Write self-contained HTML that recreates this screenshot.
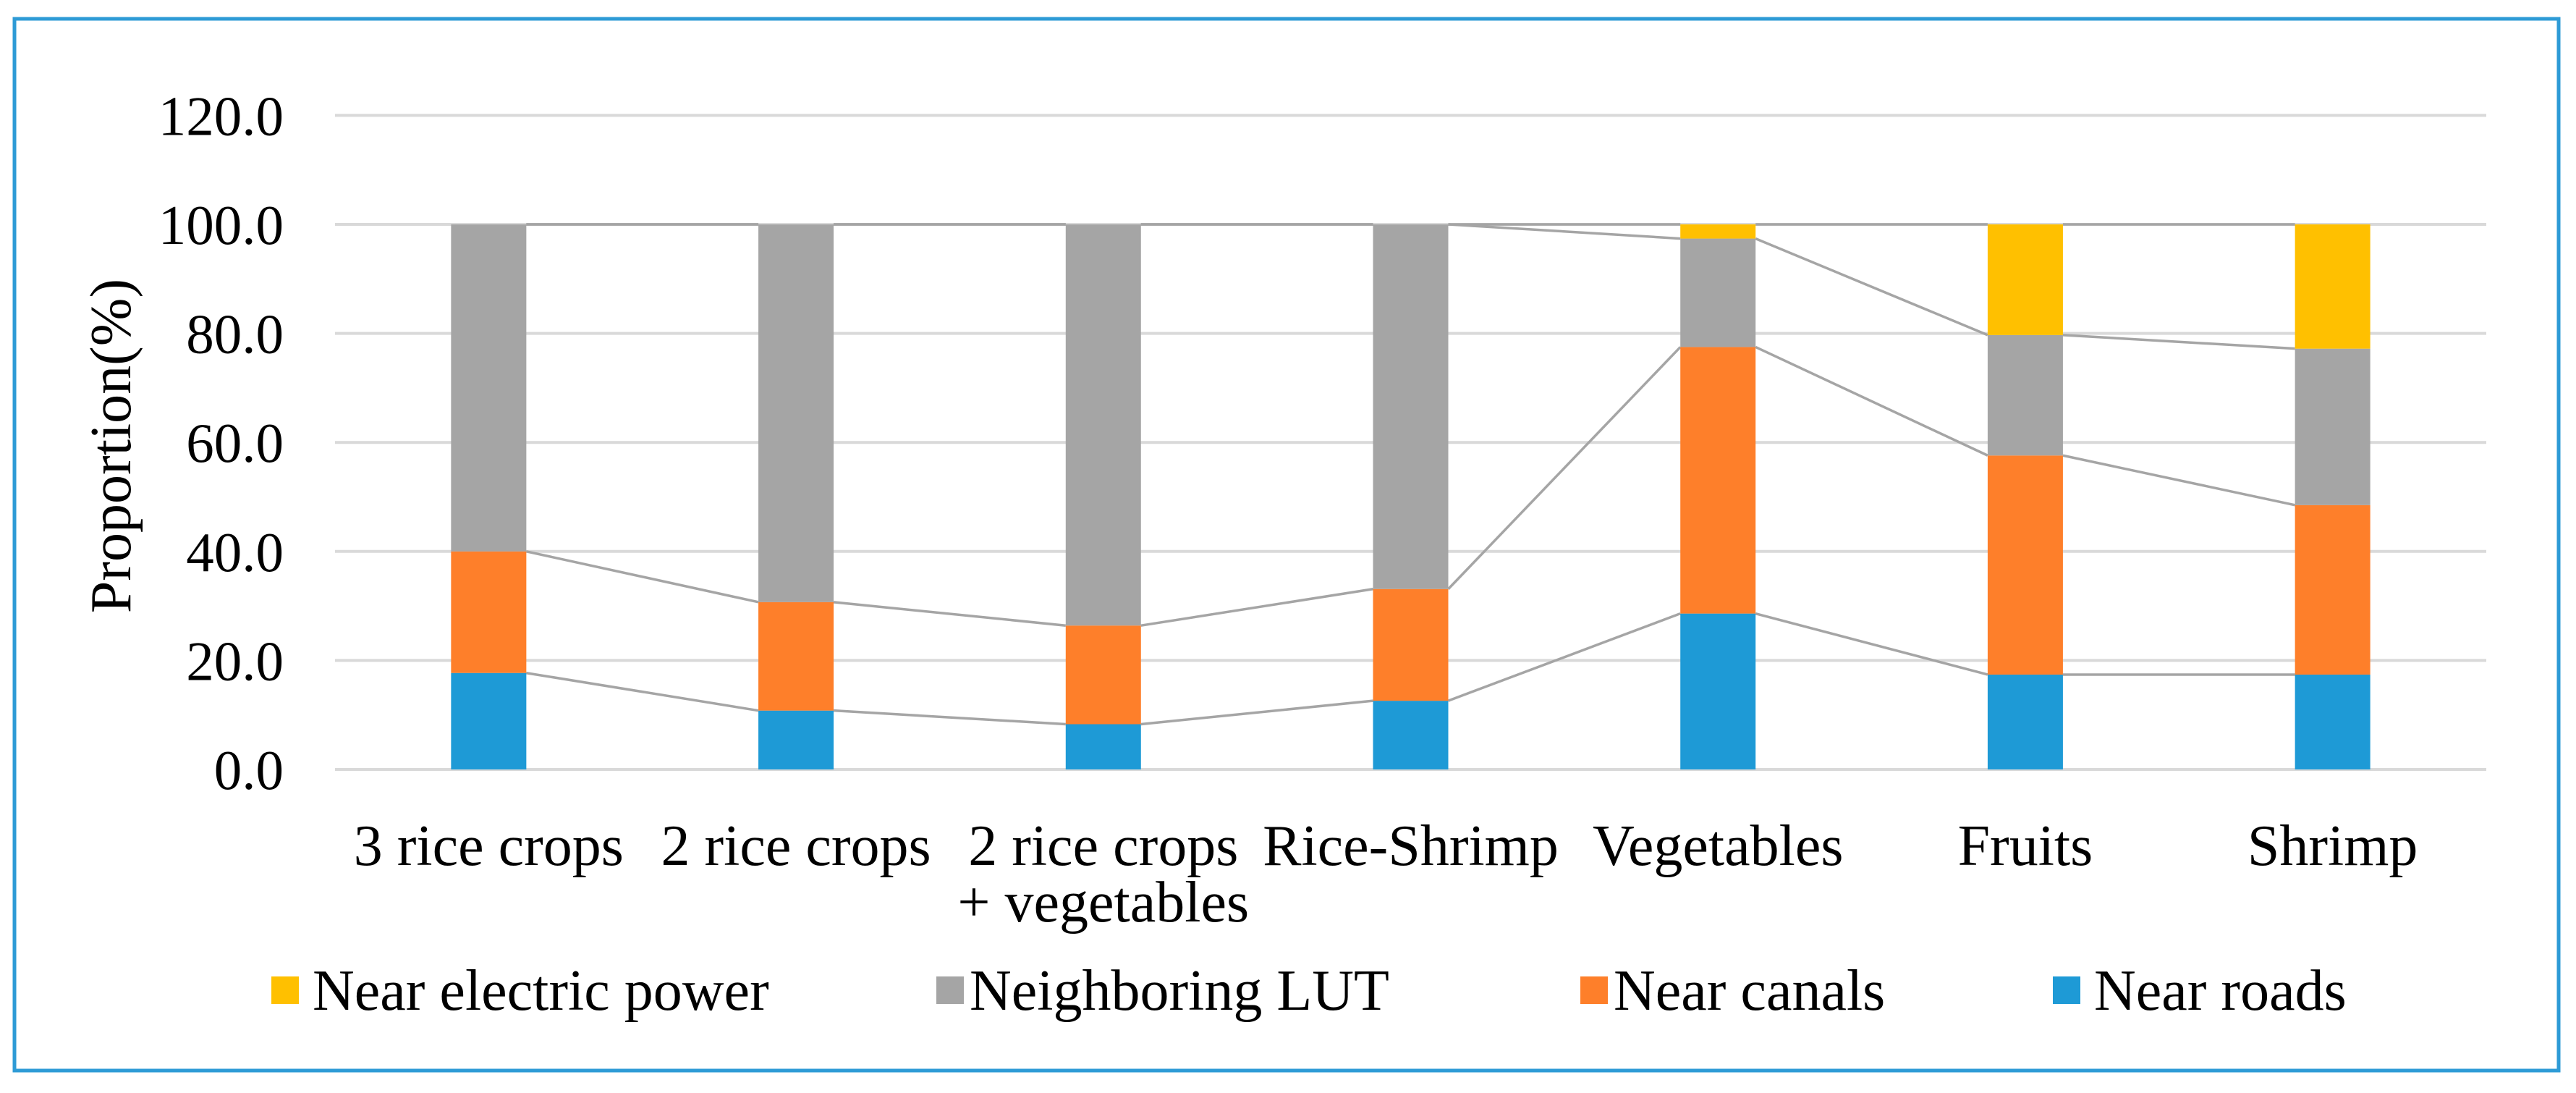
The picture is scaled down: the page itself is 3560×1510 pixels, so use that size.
<!DOCTYPE html>
<html><head><meta charset="utf-8"><style>
html,body{margin:0;padding:0;background:#fff;}
svg{display:block;}
text{font-family:"Liberation Serif",serif;fill:#000;}
</style></head><body>
<svg id="chart" width="3560" height="1510" viewBox="0 0 3560 1510" xmlns="http://www.w3.org/2000/svg">
<rect x="20" y="26" width="3516" height="1453" fill="#fff" stroke="#2e9bd6" stroke-width="5"/>
<g id="grid"></g>
<g id="ylabels"></g>
<g id="lines"></g>
<g id="bars"></g>
<g id="xlabels"></g>
<text transform="translate(180,616) rotate(-90)" text-anchor="middle" font-size="80">Proportion(%)</text>
<g>
 <g><rect x="375" y="1349" width="38" height="38" fill="#ffc000"/><text x="432" y="1395" font-size="80">Near electric power</text></g>
 <g><rect x="1294" y="1349" width="38" height="38" fill="#a5a5a5"/><text x="1340" y="1395" font-size="80">Neighboring LUT</text></g>
 <g><rect x="2184" y="1349" width="38" height="38" fill="#fe7f2a"/><text x="2230" y="1395" font-size="80">Near canals</text></g>
 <g><rect x="2837" y="1349" width="38" height="38" fill="#1e9ad6"/><text x="2894" y="1395" font-size="80">Near roads</text></g>
</g>
</svg>
<script>
const categories = [["3 rice crops"],["2 rice crops"],["2 rice crops","+ vegetables"],["Rice-Shrimp"],["Vegetables"],["Fruits"],["Shrimp"]];
const nearRoads = [17.7, 10.8, 8.3, 12.6, 28.6, 17.4, 17.4];
const nearCanals = [22.3, 19.9, 18.1, 20.5, 48.9, 40.2, 31.1];
const neighboringLUT = [60.0, 69.3, 73.6, 66.9, 19.9, 22.1, 28.7];
const nearElectric = [0.0, 0.0, 0.0, 0.0, 2.6, 20.3, 22.8];
const yTicks = [0, 20, 40, 60, 80, 100, 120];
const yTickLabels = ["0.0","20.0","40.0","60.0","80.0","100.0","120.0"];

const NS = "http://www.w3.org/2000/svg";
const plotL = 463, plotR = 3436, y0 = 1063, y120 = 159.4;
const band = (plotR - plotL) / categories.length;
const barW = 104;
function yScale(v){ return y0 - (v/120)*(y0 - y120); }
function xCenter(i){ return plotL + band*(i+0.5); }
function mk(tag, attrs, parent){ const e=document.createElementNS(NS,tag); for(const k in attrs) e.setAttribute(k,attrs[k]); parent.appendChild(e); return e; }

const grid = document.getElementById('grid');
const yl = document.getElementById('ylabels');
yTicks.forEach((t,i)=>{
  const ln = mk('line',{x1:plotL,x2:plotR,y1:yScale(t),y2:yScale(t),stroke:'#d9d9d9','stroke-width':4},grid);
  
  
  const tx = mk('text',{x:392,y:yScale(t)+27,'text-anchor':'end','font-size':77},yl);
  tx.textContent = yTickLabels[i];
  
  
});

const series = [
  {vals:nearRoads, color:'#1e9ad6', name:'near-roads'},
  {vals:nearCanals, color:'#fe7f2a', name:'near-canals'},
  {vals:neighboringLUT, color:'#a5a5a5', name:'neighboring-lut'},
  {vals:nearElectric, color:'#ffc000', name:'near-electric'}
];
const bars = document.getElementById('bars');
const lines = document.getElementById('lines');
const cum = categories.map(()=>0);
series.forEach(s=>{
  const tops = [];
  categories.forEach((c,i)=>{
    const b = cum[i], t = cum[i] + s.vals[i];
    tops.push(t);
    if (s.vals[i] > 0) {
      const r = mk('rect',{x:xCenter(i)-barW/2,y:yScale(t),width:barW,height:yScale(b)-yScale(t),fill:s.color},bars);
      
      
    }
    cum[i] = t;
  });
  for (let i=0;i<categories.length-1;i++){
    const l = mk('line',{x1:xCenter(i)+barW/2,y1:yScale(tops[i]),x2:xCenter(i+1)-barW/2,y2:yScale(tops[i+1]),stroke:'#a5a5a5','stroke-width':3.5},lines);
    
    
  }
});

const xl = document.getElementById('xlabels');
categories.forEach((c,i)=>{
  c.forEach((line,j)=>{
    const tx = mk('text',{x:xCenter(i),y:1195+j*78,'text-anchor':'middle','font-size':80},xl);
    tx.textContent = line;
    
    
  });
});
</script>
</body></html>
